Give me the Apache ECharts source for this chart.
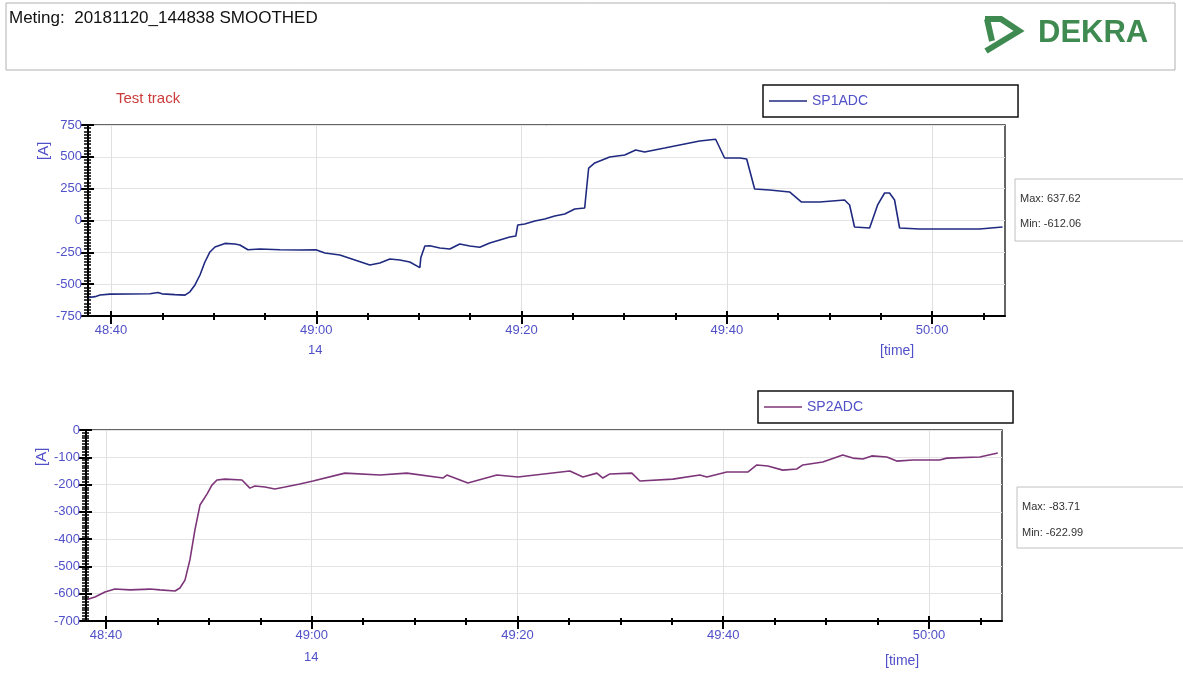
<!DOCTYPE html>
<html>
<head>
<meta charset="utf-8">
<script src="https://cdn.jsdelivr.net/npm/echarts@6/dist/echarts.min.js"></script>
<style>
html,body{margin:0;padding:0;background:#fff;}
#chart{width:1183px;height:675px;}
</style>
</head>
<body>
<div id="chart"></div>
<script>
// seconds after 14:48:00
const sp1Time = [37.86,38.44,38.93,39.90,41.85,43.80,44.58,44.97,46.23,47.21,47.69,48.18,48.67,49.15,49.64,50.13,51.10,52.07,52.56,53.34,54.51,56.46,58.40,59.96,60.84,62.30,63.76,65.22,66.19,67.17,68.14,69.11,70.09,70.19,70.58,71.06,72.04,73.01,73.98,74.96,75.93,76.90,77.88,78.85,79.44,79.63,80.31,81.29,82.26,83.23,84.21,85.18,86.15,86.35,86.54,87.13,88.59,90.05,91.12,91.99,93.94,95.89,97.35,98.91,99.78,101.25,101.93,102.71,104.17,106.11,107.28,109.04,111.47,111.96,112.44,113.91,114.69,115.37,115.85,116.34,116.83,118.77,120.72,122.67,124.62,126.86];
const sp1Value = [-605,-598,-585,-578,-577,-575,-565,-576,-582,-586,-560,-506,-428,-326,-247,-208,-180,-185,-192,-230,-224,-230,-232,-230,-255,-271,-310,-350,-334,-302,-310,-326,-370,-290,-200,-198,-216,-224,-185,-200,-210,-177,-153,-130,-122,-35,-27,-4,12,35,51,90,98,263,412,452,499,514,554,538,569,601,624,638,491,491,483,247,240,224,145,145,161,122,-51,-59,122,216,216,161,-59,-67,-67,-67,-67,-51];

const sp2Time = [38.25,38.93,39.90,40.87,42.33,44.28,45.25,46.71,47.19,47.68,48.16,48.65,49.14,49.82,50.30,50.79,51.56,53.22,53.99,54.48,55.45,56.42,57.40,58.85,60.12,63.23,66.63,69.25,72.75,73.14,75.18,78.00,80.04,85.09,86.36,87.72,88.30,88.98,91.12,91.90,95.10,97.73,98.41,100.35,102.39,103.27,104.33,105.79,107.15,107.74,109.68,111.62,112.60,113.57,114.44,115.90,116.87,118.43,121.05,121.73,124.94,126.69];
const sp2Value = [-620,-612,-594,-583,-586,-583,-586,-590,-579,-550,-476,-366,-275,-235,-202,-183,-180,-183,-213,-205,-209,-216,-209,-198,-187,-158,-165,-158,-176,-165,-194,-165,-172,-150,-172,-158,-176,-161,-158,-187,-180,-165,-172,-154,-154,-128,-132,-147,-143,-128,-117,-92,-103,-106,-95,-99,-114,-110,-110,-103,-99,-84];

const xMajorTicks = [40,60,80,100,120];
const xTickLabels = ['48:40','49:00','49:20','49:40','50:00'];
const xMinorTicks = [45,50,55,65,70,75,85,90,95,105,110,115,125];
const y1Ticks = [-750,-500,-250,0,250,500,750];
const y2Ticks = [-700,-600,-500,-400,-300,-200,-100,0];
const seriesNames = ['SP1ADC','SP2ADC'];
const statLabels = [['Max: 637.62','Min: -612.06'],['Max: -83.71','Min: -622.99']];

const FONT = '"Liberation Sans", Arial, sans-serif';
const LABEL_COLOR = '#5050c8';

const grids = [
  {left:88, right:178, top:125, height:191, xmin:37.76, xmax:127.1, ymin:y1Ticks[0], ymax:y1Ticks[y1Ticks.length-1], yint:250},
  {left:86, right:181, top:430, height:191, xmin:38.06, xmax:127.1, ymin:y2Ticks[0], ymax:y2Ticks[y2Ticks.length-1], yint:100}
];

const xAxis = [], yAxis = [];
grids.forEach((g, i) => {
  const base = {gridIndex:i, type:'value', min:g.xmin, max:g.xmax, position:'bottom'};
  xAxis.push(Object.assign({}, base, {
    axisLine:{show:true, onZero:false, lineStyle:{color:'#000', width:2}},
    axisTick:{show:true, customValues:xMajorTicks, length:8, lineStyle:{color:'#000', width:2}},
    axisLabel:{show:true, customValues:xMajorTicks, color:LABEL_COLOR, fontSize:13, fontFamily:FONT, margin:8,
      formatter:(v)=>{ const k = xMajorTicks.indexOf(Math.round(v)); return k>=0 ? xTickLabels[k] : ''; }},
    splitLine:{show:true, lineStyle:{color:'#e0e0e0', width:1}}
  }));
  xAxis.push(Object.assign({}, base, {
    axisLine:{show:false, onZero:false},
    axisTick:{show:true, inside:true, customValues:xMajorTicks, length:5, lineStyle:{color:'#000', width:2}},
    axisLabel:{show:false}, splitLine:{show:false}
  }));
  xAxis.push(Object.assign({}, base, {
    axisLine:{show:false, onZero:false},
    axisTick:{show:true, customValues:xMinorTicks, length:4, lineStyle:{color:'#000', width:2}},
    axisLabel:{show:false}, splitLine:{show:false}
  }));
  xAxis.push(Object.assign({}, base, {
    axisLine:{show:false, onZero:false},
    axisTick:{show:true, inside:true, customValues:xMinorTicks, length:3, lineStyle:{color:'#000', width:2}},
    axisLabel:{show:false}, splitLine:{show:false}
  }));
  const ybase = {gridIndex:i, type:'value', min:g.ymin, max:g.ymax, interval:g.yint, position:'left'};
  yAxis.push(Object.assign({}, ybase, {
    axisLine:{show:true, onZero:false, lineStyle:{color:'#000', width:2}},
    axisTick:{show:true, length:7, lineStyle:{color:'#000', width:2}},
    minorTick:{show:true, splitNumber:10, length:4, lineStyle:{color:'#000', width:1.5}},
    axisLabel:{color:LABEL_COLOR, fontSize:13, fontFamily:FONT, margin:6},
    splitLine:{show:true, lineStyle:{color:'#e4e4e4', width:1}}
  }));
  yAxis.push(Object.assign({}, ybase, {
    axisLine:{show:false, onZero:false},
    axisTick:{show:true, inside:true, length:6, lineStyle:{color:'#000', width:2}},
    minorTick:{show:true, splitNumber:10, length:3, lineStyle:{color:'#000', width:1.5}},
    axisLabel:{show:false}, splitLine:{show:false}
  }));
});

const legendBase = {orient:'horizontal', padding:[9,150,9,6], itemWidth:38, itemHeight:1.5, icon:'rect', itemGap:5,
  borderColor:'#111', borderWidth:1.5, textStyle:{color:LABEL_COLOR, fontSize:14, fontFamily:FONT}};

const option = {
  backgroundColor:'#fff',
  animation:false,
  textStyle:{fontFamily:FONT},
  grid: grids.map(g => ({left:g.left, right:g.right, top:g.top, height:g.height, show:true, borderColor:'#333', borderWidth:1.5, backgroundColor:'transparent'})),
  xAxis, yAxis,
  legend:[
    Object.assign({data:[seriesNames[0]], left:763, top:85}, legendBase),
    Object.assign({data:[seriesNames[1]], left:758, top:391}, legendBase)
  ],
  series:[
    {name:seriesNames[0], type:'line', xAxisIndex:0, yAxisIndex:0, symbol:'none', z:5,
      lineStyle:{color:'#1f2a80', width:1.6}, itemStyle:{color:'#1f2a80'},
      data: sp1Time.map((t,k)=>[t, sp1Value[k]])},
    {name:seriesNames[1], type:'line', xAxisIndex:4, yAxisIndex:2, symbol:'none', z:5,
      lineStyle:{color:'#7d3579', width:1.6}, itemStyle:{color:'#7d3579'},
      data: sp2Time.map((t,k)=>[t, sp2Value[k]])}
  ],
  graphic:[
    {type:'rect', shape:{x:6, y:3, width:1169, height:67}, style:{fill:'none', stroke:'#b0b0b0', lineWidth:1}},
    {type:'text', left:9, top:10, style:{text:'Meting:  20181120_144838 SMOOTHED', fill:'#111', font:'17px '+FONT}},
    {type:'polyline', shape:{points:[[985,19],[1001,19],[1019,31],[986,51]]}, style:{stroke:'#3f8a50', lineWidth:6, fill:'none', lineJoin:'miter'}},
    {type:'line', shape:{x1:987, y1:19, x2:992, y2:41}, style:{stroke:'#3f8a50', lineWidth:6}},
    {type:'text', left:1038, top:18, style:{text:'DEKRA', fill:'#3f8a50', font:'bold 31px '+FONT}},
    {type:'text', left:116, top:91, style:{text:'Test track', fill:'#cc3b3b', font:'15px '+FONT}},
    {type:'text', x:36, y:160, rotation:Math.PI/2, style:{text:'[A]', fill:LABEL_COLOR, font:'15px '+FONT}},
    {type:'text', x:34, y:466, rotation:Math.PI/2, style:{text:'[A]', fill:LABEL_COLOR, font:'15px '+FONT}},
    {type:'text', left:308, top:344, style:{text:'14', fill:LABEL_COLOR, font:'13px '+FONT}},
    {type:'text', left:304, top:651, style:{text:'14', fill:LABEL_COLOR, font:'13px '+FONT}},
    {type:'text', left:880, top:344, style:{text:'[time]', fill:LABEL_COLOR, font:'14px '+FONT}},
    {type:'text', left:885, top:654, style:{text:'[time]', fill:LABEL_COLOR, font:'14px '+FONT}},
    {type:'rect', shape:{x:1015, y:179, width:170, height:62}, style:{fill:'#fff', stroke:'#c0c0c0', lineWidth:1}},
    {type:'text', left:1020, top:193, style:{text:statLabels[0][0], fill:'#333', font:'11px '+FONT}},
    {type:'text', left:1020, top:218, style:{text:statLabels[0][1], fill:'#333', font:'11px '+FONT}},
    {type:'rect', shape:{x:1017, y:487, width:168, height:61}, style:{fill:'#fff', stroke:'#c0c0c0', lineWidth:1}},
    {type:'text', left:1022, top:501, style:{text:statLabels[1][0], fill:'#333', font:'11px '+FONT}},
    {type:'text', left:1022, top:527, style:{text:statLabels[1][1], fill:'#333', font:'11px '+FONT}}
  ]
};
const chart = echarts.init(document.getElementById('chart'), null, {renderer:'canvas'});
chart.setOption(option);
</script>
</body>
</html>
